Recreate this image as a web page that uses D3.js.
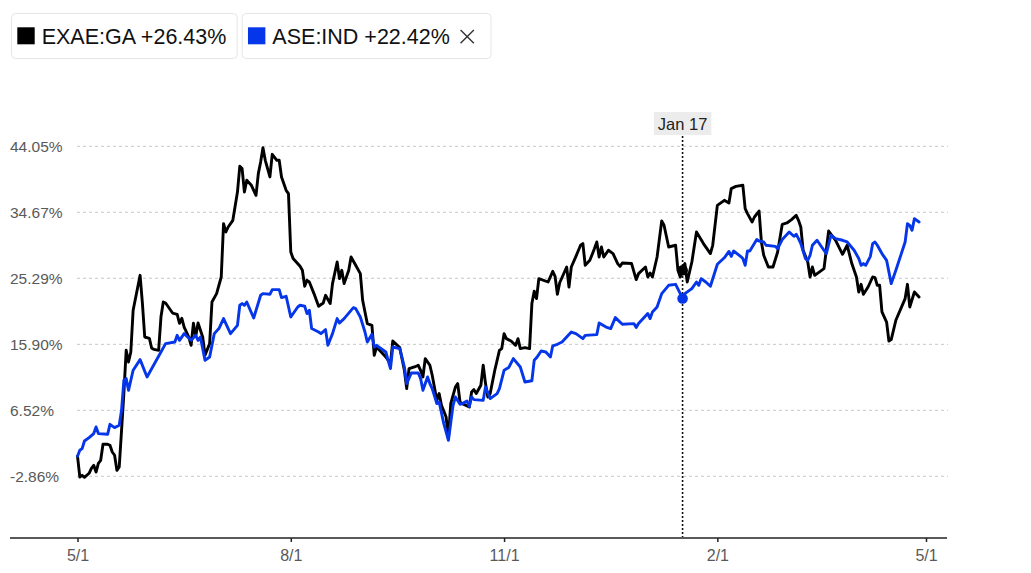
<!DOCTYPE html>
<html><head><meta charset="utf-8">
<script src="https://cdn.jsdelivr.net/npm/d3@7"></script>
<style>body{margin:0;background:#fff}svg{display:block}</style>
</head><body><svg id="c" width="1031" height="573"></svg>
<script>
const seriesNames = ["EXAE:GA", "ASE:IND"];
const seriesColors = ["#000000", "#0536ea"];

const exaeDates = ["2023-05-01","2023-05-02","2023-05-03","2023-05-04","2023-05-06","2023-05-07","2023-05-08","2023-05-09","2023-05-10","2023-05-11","2023-05-12","2023-05-14","2023-05-15","2023-05-16","2023-05-17","2023-05-18","2023-05-19","2023-05-20","2023-05-21","2023-05-22","2023-05-23","2023-05-24","2023-05-25","2023-05-28","2023-05-29","2023-05-30","2023-06-01","2023-06-02","2023-06-03","2023-06-05","2023-06-06","2023-06-07","2023-06-08","2023-06-11","2023-06-13","2023-06-14","2023-06-15","2023-06-16","2023-06-18","2023-06-19","2023-06-20","2023-06-21","2023-06-22","2023-06-24","2023-06-25","2023-06-27","2023-06-28","2023-06-30","2023-07-02","2023-07-03","2023-07-04","2023-07-05","2023-07-07","2023-07-09","2023-07-10","2023-07-11","2023-07-12","2023-07-13","2023-07-15","2023-07-17","2023-07-18","2023-07-19","2023-07-20","2023-07-21","2023-07-23","2023-07-24","2023-07-26","2023-07-27","2023-07-28","2023-07-30","2023-07-31","2023-08-01","2023-08-02","2023-08-05","2023-08-06","2023-08-07","2023-08-08","2023-08-09","2023-08-11","2023-08-13","2023-08-15","2023-08-16","2023-08-18","2023-08-19","2023-08-21","2023-08-22","2023-08-23","2023-08-24","2023-08-26","2023-08-27","2023-08-29","2023-08-31","2023-09-01","2023-09-03","2023-09-05","2023-09-06","2023-09-07","2023-09-11","2023-09-13","2023-09-14","2023-09-17","2023-09-19","2023-09-20","2023-09-21","2023-09-24","2023-09-25","2023-09-26","2023-09-27","2023-09-28","2023-09-30","2023-10-01","2023-10-03","2023-10-04","2023-10-05","2023-10-07","2023-10-08","2023-10-09","2023-10-11","2023-10-12","2023-10-13","2023-10-14","2023-10-17","2023-10-18","2023-10-19","2023-10-20","2023-10-22","2023-10-23","2023-10-24","2023-10-25","2023-10-26","2023-10-28","2023-10-30","2023-10-31","2023-11-01","2023-11-02","2023-11-04","2023-11-06","2023-11-07","2023-11-08","2023-11-10","2023-11-12","2023-11-13","2023-11-14","2023-11-15","2023-11-16","2023-11-20","2023-11-22","2023-11-23","2023-11-24","2023-11-25","2023-11-28","2023-11-29","2023-11-30","2023-12-02","2023-12-04","2023-12-05","2023-12-06","2023-12-08","2023-12-10","2023-12-11","2023-12-12","2023-12-13","2023-12-14","2023-12-16","2023-12-18","2023-12-20","2023-12-21","2023-12-22","2023-12-26","2023-12-28","2023-12-29","2024-01-01","2024-01-02","2024-01-03","2024-01-04","2024-01-06","2024-01-08","2024-01-09","2024-01-11","2024-01-14","2024-01-15","2024-01-16","2024-01-17","2024-01-18","2024-01-19","2024-01-21","2024-01-23","2024-01-26","2024-01-29","2024-01-30","2024-02-01","2024-02-04","2024-02-06","2024-02-07","2024-02-09","2024-02-12","2024-02-13","2024-02-14","2024-02-16","2024-02-17","2024-02-19","2024-02-20","2024-02-21","2024-02-23","2024-02-25","2024-02-27","2024-02-29","2024-03-02","2024-03-04","2024-03-06","2024-03-07","2024-03-08","2024-03-09","2024-03-11","2024-03-12","2024-03-13","2024-03-14","2024-03-18","2024-03-20","2024-03-23","2024-03-26","2024-03-28","2024-03-30","2024-04-01","2024-04-02","2024-04-03","2024-04-04","2024-04-06","2024-04-08","2024-04-09","2024-04-10","2024-04-11","2024-04-12","2024-04-14","2024-04-15","2024-04-16","2024-04-18","2024-04-22","2024-04-23","2024-04-24","2024-04-26","2024-04-28"];
const exaeValues = [0,-2.96,-2.72,-3.00,-2.43,-1.72,-1.30,-2.25,-1.01,-0.59,1.69,1.69,1.55,0.59,0.13,-2.01,-1.54,3.68,8.94,15.05,13.39,14.81,20.74,25.71,21.73,16.94,16.76,15.34,15.19,15.05,19.78,21.92,21.77,20.35,20.17,18.89,19.60,18.36,16.94,15.76,18.89,17.04,18.93,16.94,14.34,16.00,21.92,23.11,25.47,33.06,31.87,32.58,33.53,37.55,41.21,40.88,37.55,39.22,38.51,37.08,40.17,41.82,43.86,42.06,39.69,42.91,42.06,42.06,39.69,37.79,37.33,29.02,28.09,26.99,26.42,24.15,25.00,24.76,23.11,21.31,21.77,22.87,21.69,24.53,27.60,25.24,26.42,24.53,26.42,28.31,27.13,25.95,22.16,18.85,18.60,14.34,15.52,14.10,13.16,16.37,15.43,12.21,9.61,12.45,12.78,12.92,12.21,11.26,13.87,12.92,11.50,7.94,8.90,7.23,5.57,2.50,7.47,9.83,10.32,7.70,7.47,6.99,9.12,9.46,8.90,10.08,12.92,10.32,8.41,8.90,12.21,15.05,15.29,17.42,16.71,16.37,15.76,16.71,15.29,15.43,15.29,21.69,23.44,22.40,25.24,24.76,26.28,25.57,23.01,24.65,26.89,24.05,26.89,28.41,29.98,30.22,27.13,27.84,29.51,30.45,28.31,29.74,28.31,29.27,28.80,27.38,26.99,27.46,27.38,25.10,25.95,26.89,25.47,26.04,25.47,28.31,33.43,32.82,29.74,29.98,26.42,25.47,26.43,27.38,24.76,27.60,31.87,30.22,28.80,29.98,35.66,36.37,35.99,38.04,38.36,38.51,35.19,34.48,33.29,34.00,34.85,30.45,28.56,26.89,26.89,29.02,32.96,33.15,33.63,34.24,33.53,32.58,29.27,27.60,25.47,26.89,25.71,26.66,32.01,30.69,28.70,29.98,27.38,25.47,23.34,24.43,23.01,24.05,25.47,25.39,24.29,24.29,20.50,19.07,16.37,16.57,19.32,22.40,24.43,21.21,23.34,22.63];

const aseDates = ["2023-05-01","2023-05-02","2023-05-03","2023-05-04","2023-05-06","2023-05-08","2023-05-09","2023-05-10","2023-05-14","2023-05-15","2023-05-17","2023-05-19","2023-05-20","2023-05-21","2023-05-22","2023-05-23","2023-05-25","2023-05-28","2023-05-31","2023-06-06","2023-06-08","2023-06-12","2023-06-13","2023-06-14","2023-06-16","2023-06-19","2023-06-21","2023-06-22","2023-06-23","2023-06-25","2023-06-27","2023-06-29","2023-07-01","2023-07-03","2023-07-06","2023-07-09","2023-07-10","2023-07-11","2023-07-12","2023-07-13","2023-07-16","2023-07-19","2023-07-20","2023-07-23","2023-07-24","2023-07-27","2023-07-28","2023-07-30","2023-08-01","2023-08-04","2023-08-05","2023-08-07","2023-08-08","2023-08-09","2023-08-10","2023-08-13","2023-08-14","2023-08-16","2023-08-17","2023-08-19","2023-08-21","2023-08-22","2023-08-24","2023-08-28","2023-08-29","2023-08-31","2023-09-02","2023-09-03","2023-09-05","2023-09-06","2023-09-07","2023-09-11","2023-09-13","2023-09-14","2023-09-17","2023-09-19","2023-09-20","2023-09-22","2023-09-25","2023-09-26","2023-09-27","2023-09-29","2023-09-30","2023-10-01","2023-10-03","2023-10-04","2023-10-06","2023-10-08","2023-10-10","2023-10-11","2023-10-13","2023-10-14","2023-10-16","2023-10-17","2023-10-18","2023-10-19","2023-10-23","2023-10-24","2023-10-26","2023-10-29","2023-10-30","2023-11-01","2023-11-03","2023-11-05","2023-11-08","2023-11-10","2023-11-13","2023-11-14","2023-11-15","2023-11-17","2023-11-19","2023-11-21","2023-11-22","2023-11-24","2023-11-26","2023-11-30","2023-12-02","2023-12-05","2023-12-06","2023-12-11","2023-12-12","2023-12-15","2023-12-17","2023-12-19","2023-12-22","2023-12-27","2023-12-28","2023-12-29","2024-01-02","2024-01-03","2024-01-04","2024-01-06","2024-01-08","2024-01-11","2024-01-14","2024-01-16","2024-01-17","2024-01-18","2024-01-21","2024-01-23","2024-01-24","2024-01-25","2024-01-27","2024-01-29","2024-02-01","2024-02-04","2024-02-06","2024-02-07","2024-02-08","2024-02-11","2024-02-12","2024-02-13","2024-02-14","2024-02-15","2024-02-18","2024-02-19","2024-02-21","2024-02-22","2024-02-26","2024-02-27","2024-02-29","2024-03-03","2024-03-05","2024-03-06","2024-03-07","2024-03-08","2024-03-10","2024-03-11","2024-03-12","2024-03-13","2024-03-15","2024-03-17","2024-03-19","2024-03-21","2024-03-23","2024-03-26","2024-03-28","2024-03-31","2024-04-02","2024-04-03","2024-04-04","2024-04-05","2024-04-07","2024-04-08","2024-04-09","2024-04-10","2024-04-12","2024-04-14","2024-04-16","2024-04-18","2024-04-22","2024-04-23","2024-04-24","2024-04-25","2024-04-26","2024-04-28"];
const aseValues = [0,0.84,1.08,2.16,2.64,3.21,4.15,3.21,3.11,4.53,4.06,4.39,6.52,10.79,11.03,9.36,12.21,13.73,11.26,14.81,16.00,16.23,17.18,16.47,17.42,16.47,17.18,16.47,16.94,13.63,14.10,17.42,18.14,19.56,17.42,18.60,21.45,21.69,21.45,21.92,19.64,22.87,23.11,23.01,23.68,23.68,22.54,22.73,19.78,21.21,21.45,21.31,20.27,20.74,18.14,17.65,17.42,17.99,15.76,17.42,19.56,18.93,19.56,21.12,20.98,19.78,17.65,16.23,17.33,15.52,15.76,14.81,12.45,15.52,15.29,12.68,10.32,11.82,11.82,11.03,9.36,11.26,10.32,9.61,7.47,7.70,4.63,2.26,7.23,8.41,7.37,7.47,7.84,7.09,8.41,8.04,7.94,9.83,8.19,8.90,9.61,12.21,12.59,13.87,12.68,10.54,10.72,13.63,13.98,14.95,14.81,14.10,15.69,15.90,16.23,17.65,17.42,16.71,17.18,17.28,18.93,18.36,18.14,19.70,18.75,18.85,18.28,18.85,20.27,19.56,20.50,21.21,23.11,24.29,24.43,23.11,22.42,23.11,23.82,24.76,24.29,25.24,24.76,24.15,27.28,28.20,29.10,28.41,29.17,28.41,28.09,27.13,29.17,29.17,30.79,30.59,30.45,29.98,29.83,29.51,30.79,31.87,31.26,31.54,30.93,30.22,28.09,27.84,28.56,29.98,30.69,29.74,28.80,31.40,30.93,30.69,30.45,29.27,28.09,27.13,27.38,27.13,28.41,30.22,30.45,29.98,28.80,27.84,24.53,26.42,30.45,33.06,32.82,32.11,33.77,33.29];

const yTicks = [-2.86, 6.52, 15.90, 25.29, 34.67, 44.05];
const xTickDates = ["2023-05-01", "2023-08-01", "2023-11-01", "2024-02-01", "2024-05-01"];
const xTickLabels = ["5/1", "8/1", "11/1", "2/1", "5/1"];
const xDomain = ["2023-05-01", "2024-05-01"];
const hoverDate = "2024-01-17";
const hoverLabel = "Jan 17";
const hoverValues = [26.43, 22.42];

const parse = d3.timeParse("%Y-%m-%d");
const svg = d3.select("#c");
const FONT = "'Liberation Sans', Arial, Helvetica, sans-serif";

const x = d3.scaleTime().domain(xDomain.map(parse)).range([77.5, 926]);
const y = d3.scaleLinear().domain([yTicks[0], yTicks[yTicks.length - 1]]).range([476.3, 146.3]);

// grid lines + y labels
const grid = svg.append("g");
grid.selectAll("line").data(yTicks).join("line")
  .attr("x1", 77).attr("x2", 948)
  .attr("y1", d => y(d)).attr("y2", d => y(d))
  .attr("stroke", "#c8c8c8").attr("stroke-width", 1).attr("stroke-dasharray", "3,3");
grid.selectAll("text").data(yTicks).join("text")
  .attr("x", 10).attr("y", d => y(d) + 5.6)
  .attr("font-family", FONT).attr("font-size", 15.5).attr("fill", "#595959")
  .text(d => d.toFixed(2) + "%");

// x axis
const xAxis = d3.axisBottom(x)
  .tickValues(xTickDates.map(parse))
  .tickFormat((d, i) => xTickLabels[i])
  .tickSize(4).tickSizeOuter(0).tickPadding(8);
const ax = svg.append("g").attr("transform", "translate(0,538)").call(xAxis);
ax.select(".domain").attr("d", "M10,0H947").attr("stroke", "#222").attr("stroke-width", 1.5);
ax.selectAll(".tick line").attr("stroke", "#222").attr("stroke-width", 1.5);
ax.selectAll(".tick text").attr("font-family", FONT).attr("font-size", 16).attr("fill", "#595959");

// lines
const series = [
  { dates: exaeDates, values: exaeValues },
  { dates: aseDates, values: aseValues }
];
const line = d3.line().x(d => x(d[0])).y(d => y(d[1]));
series.forEach((s, i) => {
  const pts = s.dates.map((d, j) => [parse(d), s.values[j]]);
  svg.append("path").datum(pts)
    .attr("fill", "none").attr("stroke", seriesColors[i])
    .attr("stroke-width", 2.9).attr("stroke-linejoin", "round").attr("stroke-linecap", "round")
    .attr("d", line);
});

// hover line and label
const hx = x(parse(hoverDate));
svg.append("line").attr("x1", hx).attr("x2", hx).attr("y1", 136).attr("y2", 537)
  .attr("stroke", "#111").attr("stroke-width", 1.6).attr("stroke-dasharray", "2,2");
const hl = svg.append("g");
const ht = hl.append("text").attr("x", hx).attr("y", 130).attr("text-anchor", "middle")
  .attr("font-family", FONT).attr("font-size", 16.5).attr("fill", "#222").text(hoverLabel);
const hw = ht.node().getComputedTextLength();
hl.insert("rect", "text").attr("x", hx - hw / 2 - 4).attr("y", 112).attr("width", hw + 8).attr("height", 23)
  .attr("fill", "#ececec");

hoverValues.forEach((v, i) => {
  svg.append("circle").attr("cx", hx).attr("cy", y(v)).attr("r", 5.3).attr("fill", seriesColors[i]);
});

// legend
const fmt = d3.format("+.2f");
let lx = 11;
seriesNames.forEach((name, i) => {
  const g = svg.append("g");
  const t = g.append("text").attr("x", lx + 30.7).attr("y", 44.3)
    .attr("font-family", FONT).attr("font-size", 21.5).attr("fill", "#111")
    .text(name + " " + fmt(hoverValues[i]) + "%");
  const tw = t.node().getComputedTextLength();
  let right = lx + 30.7 + tw;
  if (i === 1) {
    const cx0 = right + 10.7;
    g.append("path").attr("d", `M${cx0},30L${cx0 + 13.3},43.3M${cx0 + 13.3},30L${cx0},43.3`)
      .attr("stroke", "#333").attr("stroke-width", 1.4).attr("fill", "none");
    right = cx0 + 13.3 + 16.7;
  } else {
    right += 10.3;
  }
  g.insert("rect", "text").attr("x", lx + 0.5).attr("y", 13.5).attr("width", right - lx).attr("height", 45)
    .attr("rx", 4).attr("fill", "#fff").attr("stroke", "#e6e6e6");
  g.append("rect").attr("x", lx + 6.3).attr("y", 27.3).attr("width", 17.4).attr("height", 17)
    .attr("fill", seriesColors[i]);
  lx = right + 5;
});
</script></body></html>
